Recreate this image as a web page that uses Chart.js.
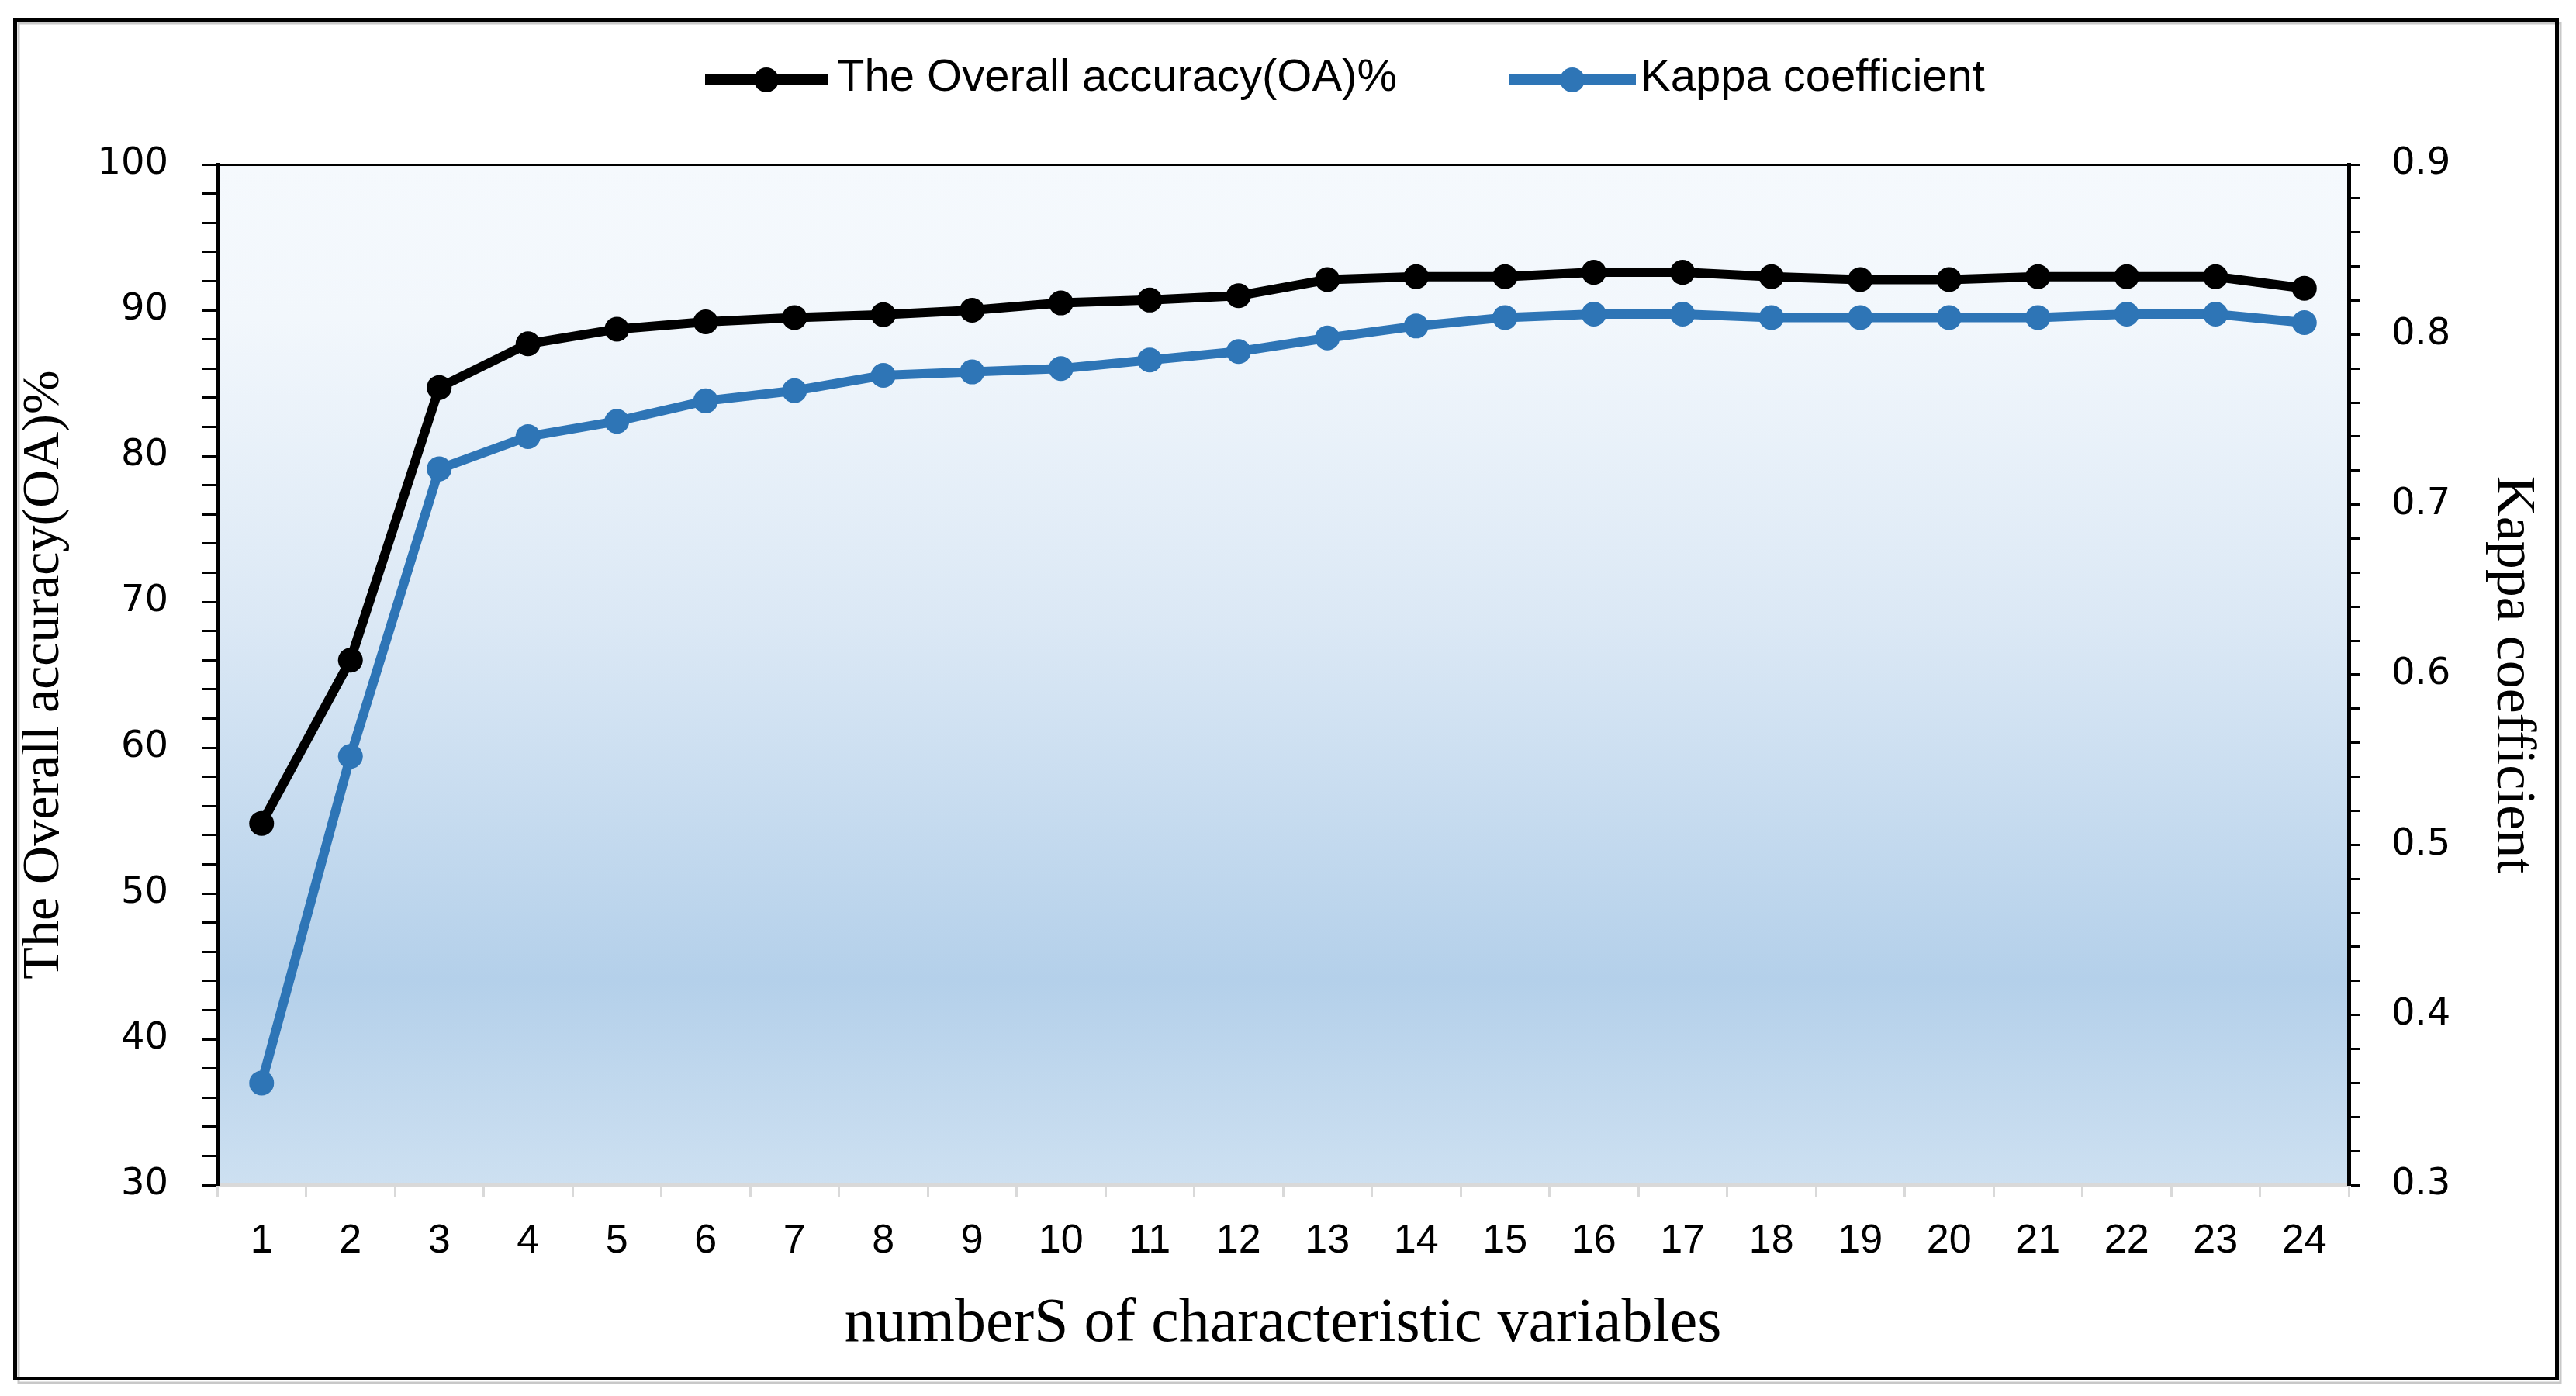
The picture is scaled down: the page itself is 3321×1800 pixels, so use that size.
<!DOCTYPE html>
<html>
<head>
<meta charset="utf-8">
<script src="https://cdn.jsdelivr.net/npm/chart.js@4.4.1/dist/chart.umd.min.js"></script>
<style>
  html, body { margin: 0; padding: 0; background: #fff; overflow: hidden; }
  #wrap { width: 3321px; height: 1800px; position: relative; }
</style>
</head>
<body>
<div id="wrap"><canvas id="chart"></canvas></div>
<script>
// data
const categories = ['1', '2', '3', '4', '5', '6', '7', '8', '9', '10', '11', '12',
  '13', '14', '15', '16', '17', '18', '19', '20', '21', '22', '23', '24'];
const overallAccuracy = [54.8, 66.0, 84.7, 87.7, 88.7, 89.2, 89.5, 89.7, 90.0, 90.5, 90.7, 91.0,
  92.1, 92.3, 92.3, 92.6, 92.6, 92.3, 92.1, 92.1, 92.3, 92.3, 92.3, 91.5];
const kappaCoefficient = [0.360, 0.552, 0.721, 0.740, 0.749, 0.761, 0.767, 0.776, 0.778, 0.780, 0.785, 0.790,
  0.798, 0.805, 0.810, 0.812, 0.812, 0.810, 0.810, 0.810, 0.810, 0.812, 0.812, 0.807];
const seriesNames = ['The Overall accuracy(OA)%', 'Kappa coefficient'];
const seriesColors = ['#000000', '#2e75b6'];

// layout (pixels)
const PLOT = { left: 280, right: 3028, top: 212, bottom: 1528 };
const LEGEND = [
  { lineFrom: 909, lineTo: 1067, textX: 1079 },
  { lineFrom: 1945, lineTo: 2109, textX: 2115 },
];
const LEGEND_Y = 103;

// white page, outer frame, gradient plot area
const framePlugin = {
  id: 'frame',
  beforeDraw(chart) {
    const { ctx, chartArea: a } = chart;
    ctx.save();
    ctx.fillStyle = '#ffffff';
    ctx.fillRect(0, 0, chart.width, chart.height);

    // soft shadow + black frame
    ctx.strokeStyle = '#c8c8c8';
    ctx.lineWidth = 3;
    ctx.strokeRect(24, 30, 3277, 1753);
    ctx.strokeStyle = '#000000';
    ctx.lineWidth = 5;
    ctx.strokeRect(19.5, 25.5, 3277, 1752);

    const g = ctx.createLinearGradient(0, a.top, 0, a.bottom);
    g.addColorStop(0, '#f5f9fd');
    g.addColorStop(0.15, '#f2f7fc');
    g.addColorStop(0.45, '#dbe8f5');
    g.addColorStop(0.8, '#b4d0ea');
    g.addColorStop(1, '#cde0f1');
    ctx.fillStyle = g;
    ctx.fillRect(a.left, a.top, a.right - a.left, a.bottom - a.top);
    ctx.restore();
  },
  afterDraw(chart) {
    const { ctx, chartArea: a } = chart;
    ctx.save();
    ctx.strokeStyle = '#000000';
    ctx.lineWidth = 3;
    ctx.beginPath();
    ctx.moveTo(a.left, a.top + 0.5);
    ctx.lineTo(a.right, a.top + 0.5);
    ctx.stroke();
    ctx.restore();
  },
};

// legend: thick line with a dot in the middle, like the original
const legendPlugin = {
  id: 'lineLegend',
  afterDraw(chart) {
    const ctx = chart.ctx;
    ctx.save();
    chart.data.datasets.forEach((ds, i) => {
      const pos = LEGEND[i];
      ctx.strokeStyle = ds.borderColor;
      ctx.lineWidth = 14;
      ctx.beginPath();
      ctx.moveTo(pos.lineFrom, LEGEND_Y);
      ctx.lineTo(pos.lineTo, LEGEND_Y);
      ctx.stroke();
      ctx.fillStyle = ds.borderColor;
      ctx.beginPath();
      ctx.arc((pos.lineFrom + pos.lineTo) / 2, LEGEND_Y, 16, 0, Math.PI * 2);
      ctx.fill();
      ctx.fillStyle = '#000000';
      ctx.font = '58px "Liberation Sans", Arial, sans-serif';
      ctx.textBaseline = 'alphabetic';
      ctx.fillText(ds.label, pos.textX, 117);
    });
    ctx.restore();
  },
};

const ctx = document.getElementById('chart');
new Chart(ctx, {
  type: 'line',
  data: {
    labels: categories,
    datasets: [
      {
        label: seriesNames[0],
        data: overallAccuracy,
        yAxisID: 'y',
        borderColor: seriesColors[0],
        backgroundColor: seriesColors[0],
        borderWidth: 12,
        pointRadius: 16,
        pointBorderWidth: 0,
        pointBackgroundColor: seriesColors[0],
        tension: 0,
      },
      {
        label: seriesNames[1],
        data: kappaCoefficient,
        yAxisID: 'y1',
        borderColor: seriesColors[1],
        backgroundColor: seriesColors[1],
        borderWidth: 12,
        pointRadius: 16,
        pointBorderWidth: 0,
        pointBackgroundColor: seriesColors[1],
        tension: 0,
      },
    ],
  },
  options: {
    responsive: true,
    maintainAspectRatio: false,
    devicePixelRatio: 1,
    animation: false,
    layout: { padding: { top: PLOT.top, left: 0, right: 0, bottom: 0 } },
    plugins: {
      legend: { display: false },
      tooltip: { enabled: false },
    },
    scales: {
      x: {
        offset: true,
        grid: {
          offset: true,
          drawOnChartArea: false,
          drawTicks: true,
          tickLength: 15,
          tickColor: '#d9d9d9',
          tickWidth: 3,
        },
        border: { color: '#d9d9d9', width: 5 },
        ticks: {
          color: '#000',
          font: { family: '"Liberation Sans", Arial, sans-serif', size: 52 },
          padding: 26,
          maxRotation: 0,
          autoSkip: false,
        },
        title: {
          display: true,
          text: 'numberS of characteristic variables',
          color: '#000',
          font: { family: '"Liberation Serif", "Times New Roman", serif', size: 80 },
          padding: { top: 0, bottom: 44 },
        },
        afterFit(scale) { scale.height = 1800 - PLOT.bottom; },
      },
      y: {
        position: 'left',
        min: 30,
        max: 100,
        grid: {
          drawOnChartArea: false,
          drawTicks: true,
          tickLength: 20,
          tickColor: '#000',
          tickWidth: 3,
        },
        border: { color: '#000', width: 5 },
        ticks: {
          stepSize: 2,
          autoSkip: false,
          color: '#000',
          padding: 43,
          font: { family: '"DejaVu Sans", sans-serif', size: 48 },
          callback: (v) => (v % 10 === 0 ? String(v) : ''),
        },
        title: {
          display: true,
          text: 'The Overall accuracy(OA)%',
          color: '#000',
          font: { family: '"Liberation Serif", "Times New Roman", serif', size: 68 },
          padding: { top: 16, bottom: 0 },
        },
        afterFit(scale) { scale.width = PLOT.left; },
      },
      y1: {
        position: 'right',
        min: 0.3,
        max: 0.9,
        grid: {
          drawOnChartArea: false,
          drawTicks: true,
          tickLength: 15,
          tickColor: '#000',
          tickWidth: 3,
        },
        border: { color: '#000', width: 5 },
        ticks: {
          stepSize: 0.02,
          autoSkip: false,
          color: '#000',
          padding: 40,
          font: { family: '"DejaVu Sans", sans-serif', size: 48 },
          callback: (v) => (Math.abs(v * 10 - Math.round(v * 10)) < 1e-6 ? v.toFixed(1) : ''),
        },
        title: {
          display: true,
          text: 'Kappa coefficient',
          color: '#000',
          font: { family: '"Liberation Serif", "Times New Roman", serif', size: 72 },
          padding: { top: 39, bottom: 0 },
        },
        afterFit(scale) { scale.width = 3321 - PLOT.right; },
      },
    },
  },
  plugins: [framePlugin, legendPlugin],
});
</script>
</body>
</html>
